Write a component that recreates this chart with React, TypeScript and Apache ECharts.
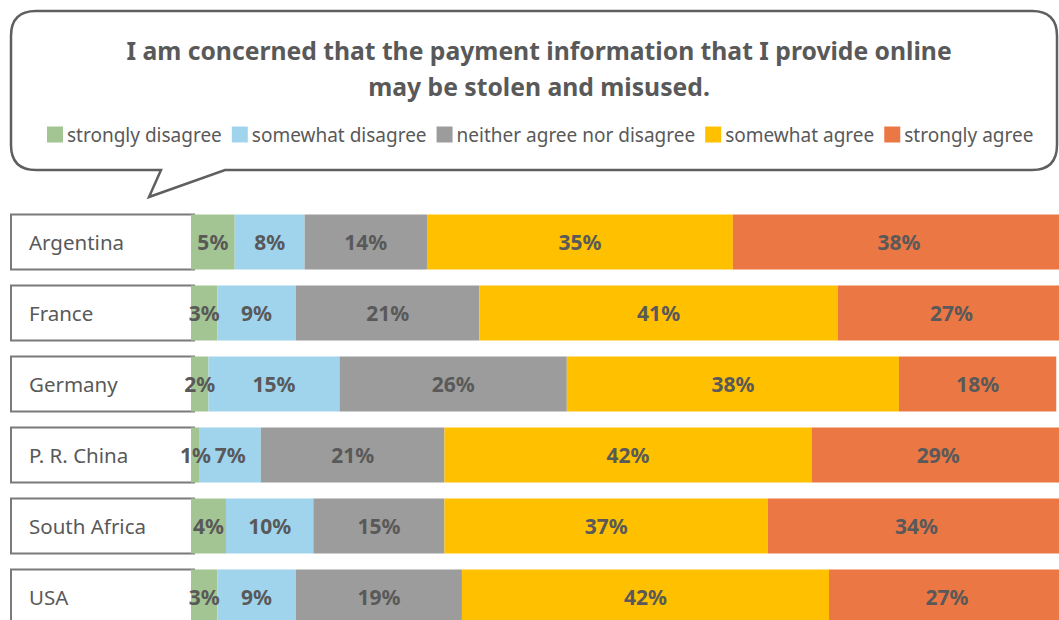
import React, { useEffect, useRef } from "react";
import * as echarts from "echarts";

const categories = ["Argentina", "France", "Germany", "P. R. China", "South Africa", "USA"];
const seriesNames = ["strongly disagree", "somewhat disagree", "neither agree nor disagree", "somewhat agree", "strongly agree"];
const stronglyDisagree = [5, 3, 2, 1, 4, 3];
const somewhatDisagree = [8, 9, 15, 7, 10, 9];
const neither = [14, 21, 26, 21, 15, 19];
const somewhatAgree = [35, 41, 38, 42, 37, 42];
const stronglyAgree = [38, 27, 18, 29, 34, 27];
const colors = ["#A3C593", "#A0D4EC", "#9C9C9C", "#FFC000", "#EB7844"];
const titleText = "I am concerned that the payment information that I provide online\nmay be stolen and misused.";

const FONT = "'Noto Sans', sans-serif";
const TEXT = "#595959";

const bubbleD =
  "M 36 11 H 1032 Q 1057 11 1057 36 V 145 Q 1057 170 1032 170 H 225 L 149 197 L 161 170 H 36 Q 11 170 11 145 V 36 Q 11 11 36 11 Z";
echarts.graphic.registerShape("bubble", echarts.graphic.extendPath(bubbleD, {}));

export default function App() {
  const ref = useRef<HTMLDivElement>(null);
  useEffect(() => {
    if (!ref.current) return;
    const chart = echarts.init(ref.current, undefined, { renderer: "svg" });
    const values = [stronglyDisagree, somewhatDisagree, neither, somewhatAgree, stronglyAgree];
    const barSeries = seriesNames.map((name, i) => ({
      name,
      type: "bar",
      stack: "total",
      barWidth: 55,
      data: values[i],
      itemStyle: { color: colors[i] },
      label: {
        show: true,
        position: "inside",
        formatter: "{c}%",
        color: TEXT,
        fontFamily: FONT,
        fontWeight: "bold",
        fontSize: 21,
      },
      z: 3,
    }));
    chart.setOption({
      animation: false,
      color: colors,
      graphic: [
        {
          type: "bubble",
          x: 0,
          y: 0,
          style: { fill: "#fff", stroke: "#5f5f5f", lineWidth: 2.5 },
          z: 0,
        },
        {
          type: "text",
          x: 539,
          y: 68,
          style: {
            text: titleText,
            textAlign: "center",
            textVerticalAlign: "middle",
            fill: TEXT,
            fontFamily: FONT,
            fontWeight: "bold",
            fontSize: 24.7,
            lineHeight: 36,
          },
          z: 1,
        },
      ],
      legend: {
        data: seriesNames,
        left: 42,
        top: 120,
        icon: "rect",
        itemWidth: 16,
        itemHeight: 16,
        itemGap: 10,
        selectedMode: false,
        textStyle: { color: TEXT, fontFamily: FONT, fontSize: 19, padding: [0, 0, 0, -1] },
      },
      grid: { left: 191, top: 206.5, width: 874, height: 426, containLabel: false },
      xAxis: { type: "value", min: 0, max: 100, show: false },
      yAxis: {
        type: "category",
        data: categories,
        inverse: true,
        axisLine: { show: false },
        axisTick: { show: false },
        axisLabel: { show: false },
      },
      series: [
        {
          type: "custom",
          name: "labels",
          clip: false,
          z: 2,
          data: categories.map((_, i) => [0, i]),
          encode: { x: 0, y: 1 },
          renderItem: (params: any, api: any) => {
            const idx = api.value(1);
            const pt = api.coord([0, idx]);
            const h = 55;
            return {
              type: "group",
              children: [
                {
                  type: "rect",
                  shape: { x: 11, y: pt[1] - h / 2, width: pt[0] - 11 + 3, height: h },
                  style: { fill: "#fff", stroke: "#7a7a7a", lineWidth: 2 },
                },
                {
                  type: "text",
                  x: 29,
                  y: pt[1],
                  style: {
                    text: categories[idx],
                    fill: TEXT,
                    fontFamily: FONT,
                    fontSize: 20.5,
                    textVerticalAlign: "middle",
                  },
                },
              ],
            };
          },
        },
        ...barSeries,
      ],
    });
    return () => chart.dispose();
  }, []);
  return (
    <div style={{ position: "fixed", left: 0, top: 0, width: 1059, height: 620, overflow: "hidden", background: "#fff" }}>
      <div ref={ref} style={{ position: "absolute", left: 0, top: 0, width: 1100, height: 700 }} />
    </div>
  );
}
